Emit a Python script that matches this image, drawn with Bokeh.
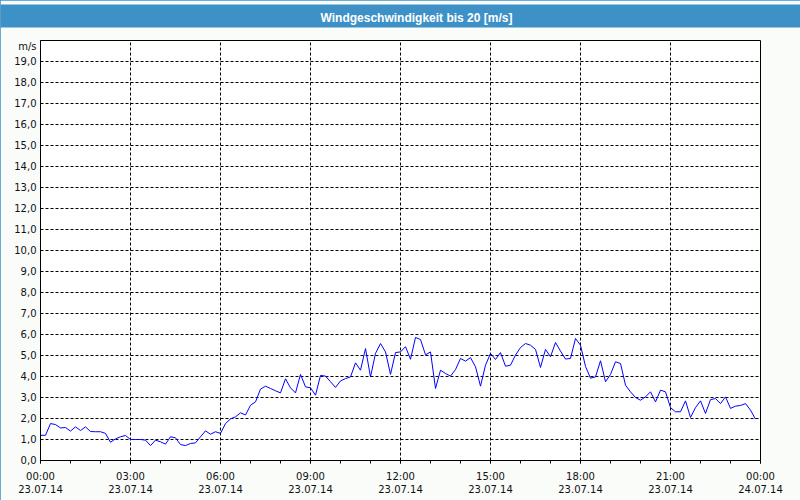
from bokeh.plotting import figure
from bokeh.models import FixedTicker, Range1d, Title
from bokeh.embed import file_html
from bokeh.resources import INLINE

title_text = "Windgeschwindigkeit bis 20 [m/s]"
unit_label = "m/s"
interval_minutes = 10

wind_speed = [
    1.20, 1.20, 1.76, 1.71, 1.55, 1.57, 1.40, 1.60, 1.43, 1.60, 1.38, 1.37,
    1.37, 1.29, 0.87, 1.03, 1.13, 1.19, 1.00, 1.00, 1.00, 0.97, 0.71, 0.97,
    0.89, 0.78, 1.13, 1.08, 0.76, 0.71, 0.81, 0.84, 1.13, 1.41, 1.25, 1.37,
    1.29, 1.76, 1.98, 2.08, 2.27, 2.17, 2.63, 2.79, 3.40, 3.54, 3.43, 3.32,
    3.22, 3.89, 3.46, 3.22, 4.10, 3.51, 3.46, 3.11, 4.05, 4.02, 3.75, 3.48,
    3.79, 3.90, 3.98, 4.65, 4.30, 5.33, 3.98, 5.10, 5.57, 5.17, 4.10, 5.14,
    5.17, 5.42, 4.82, 5.86, 5.76, 5.03, 5.17, 3.43, 4.30, 4.14, 4.02, 4.33,
    4.86, 4.73, 4.90, 4.46, 3.54, 4.54, 5.10, 4.81, 5.14, 4.49, 4.54, 5.02,
    5.38, 5.57, 5.49, 5.29, 4.43, 5.29, 4.94, 5.62, 5.21, 4.83, 4.86, 5.81,
    5.49, 4.48, 3.92, 3.98, 4.75, 3.75, 4.10, 4.70, 4.62, 3.59, 3.27, 3.00,
    2.87, 3.03, 3.27, 2.79, 3.35, 3.27, 2.52, 2.32, 2.32, 2.84, 2.05, 2.52,
    2.84, 2.24, 2.90, 2.95, 2.71, 3.03, 2.48, 2.59, 2.62, 2.71, 2.40, 1.97,
]

x_ticks = [0, 3, 6, 9, 12, 15, 18, 21, 24]
x_tick_labels = [
    "00:00\n23.07.14", "03:00\n23.07.14", "06:00\n23.07.14", "09:00\n23.07.14",
    "12:00\n23.07.14", "15:00\n23.07.14", "18:00\n23.07.14", "21:00\n23.07.14",
    "00:00\n24.07.14",
]
x_minor_ticks = list(range(0, 25))
y_grid_ticks = list(range(0, 20))
y_tick_labels = ["%d,0" % t for t in y_grid_ticks]
unit_label_pos = 19.72

hours = [i * interval_minutes / 60 for i in range(len(wind_speed))]

FONT = "DejaVu Sans"
BLUE = "#3D91C7"

p = figure(width=800, height=500, x_range=Range1d(0, 24), y_range=Range1d(0, 20),
           output_backend="svg", toolbar_location=None,
           min_border_left=40, min_border_right=40, min_border_top=40, min_border_bottom=40)
p.background_fill_color = "white"
p.border_fill_color = "#FAFCFA"
p.outline_line_color = "black"
p.outline_line_width = 1
p.styles = {"outline": "2px solid " + BLUE, "outline-offset": "-2px"}

p.line(hours, wind_speed, line_color="#0000FF", line_width=1)

xa = p.xaxis[0]
xa.ticker = FixedTicker(ticks=x_ticks, minor_ticks=x_minor_ticks)
xa.major_label_overrides = dict(zip(x_ticks, x_tick_labels))
xa.major_tick_in = 0
xa.major_tick_out = 3
xa.minor_tick_in = 0
xa.minor_tick_out = 3
xa.major_tick_line_color = "black"
xa.minor_tick_line_color = "black"
xa.axis_line_color = "black"
xa.major_label_standoff = 7
xa.major_label_text_font = FONT
xa.major_label_text_font_size = "10px"
xa.major_label_text_color = "#111111"
xa.major_label_text_line_height = 1.22

ya = p.yaxis[0]
ya.ticker = FixedTicker(ticks=y_grid_ticks + [unit_label_pos])
overrides = dict(zip(y_grid_ticks, y_tick_labels))
overrides[unit_label_pos] = unit_label
ya.major_label_overrides = overrides
ya.major_tick_in = 0
ya.major_tick_out = 0
ya.minor_tick_line_color = None
ya.axis_line_color = "black"
ya.major_label_standoff = 4
ya.major_label_text_font = FONT
ya.major_label_text_font_size = "10px"
ya.major_label_text_color = "#111111"

p.xgrid[0].ticker = FixedTicker(ticks=x_ticks)
p.ygrid[0].ticker = FixedTicker(ticks=y_grid_ticks)
for g in (p.xgrid[0], p.ygrid[0]):
    g.grid_line_color = "black"
    g.grid_line_dash = "3 2"
    g.grid_line_width = 1

# title bar
p.title.text = title_text
p.title.align = "center"
p.title.offset = 16
p.title.text_font = "Liberation Sans"
p.title.text_font_style = "bold"
p.title.text_font_size = "12px"
p.title.text_color = "white"
p.title.background_fill_color = BLUE
p.title.border_line_color = None
p.title.padding = dict(top=6, bottom=3, left=320, right=288)
p.title.standoff = 0

# spacer between title bar and frame
spacer = Title(text=" ", text_font_size="10px", standoff=0,
               padding=dict(top=0, bottom=0, left=0, right=0))
p.add_layout(spacer, "above")

open("out.html", "w").write(file_html(p, INLINE))
